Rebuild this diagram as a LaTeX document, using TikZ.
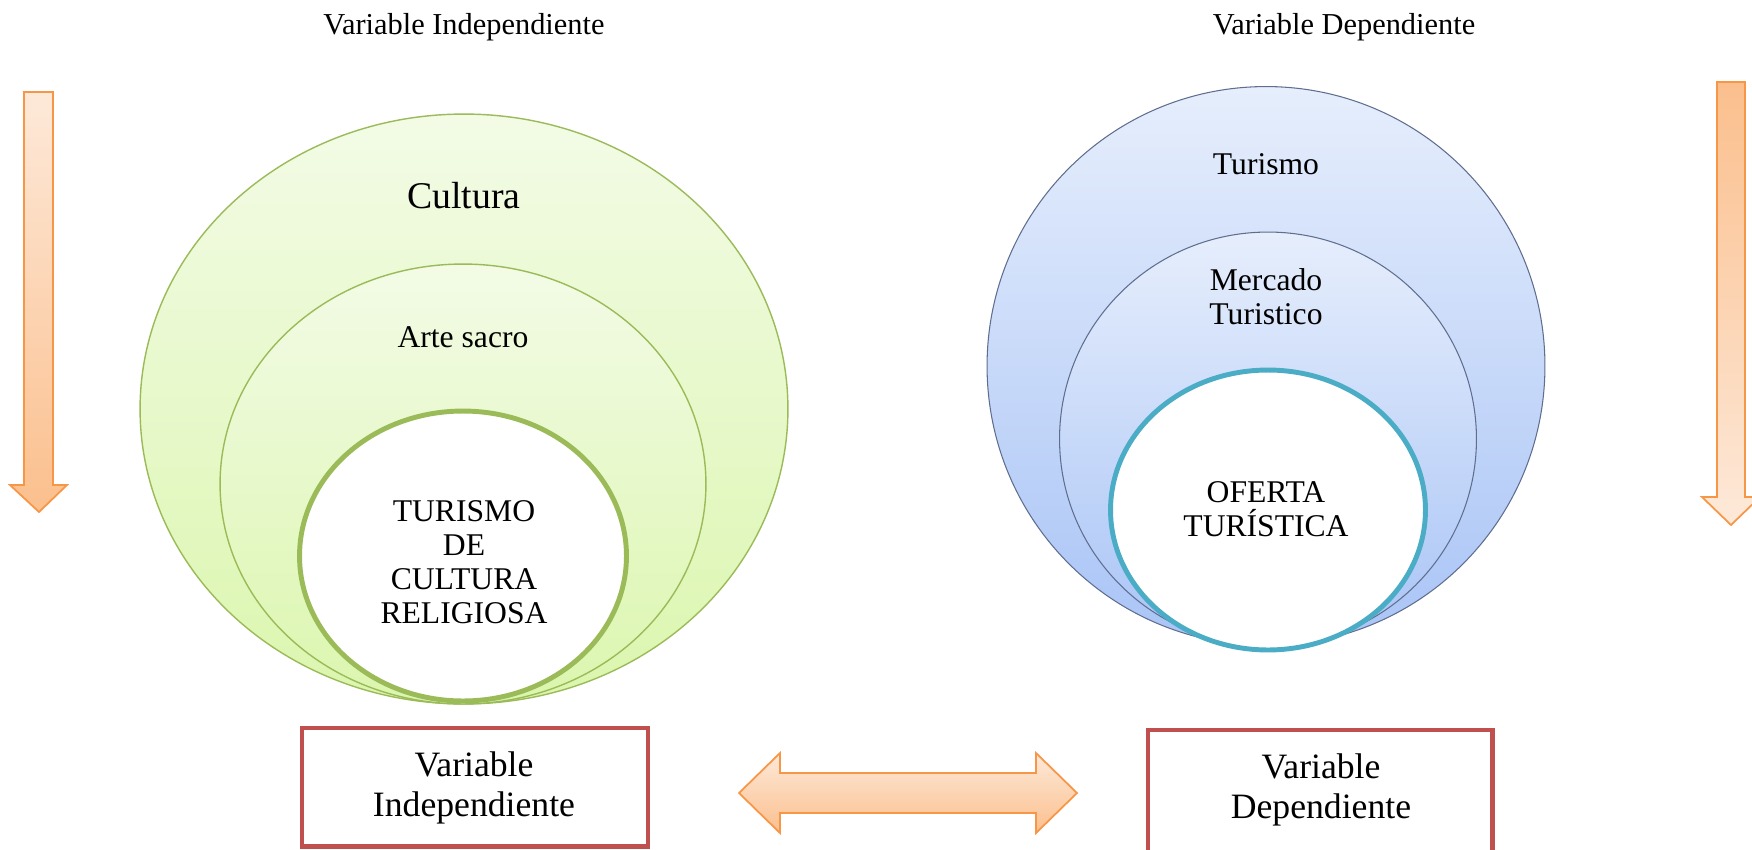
\documentclass[tikz,border=0pt]{standalone}
\usepackage{fontspec}
\setmainfont{Liberation Serif}
\usetikzlibrary{shapes.geometric}
\definecolor{verdeBorde}{HTML}{9BBB59}
\definecolor{verdeClaro}{HTML}{F3FBE6}
\definecolor{verdeFuerte}{HTML}{DBF6AE}
\definecolor{azulBorde}{HTML}{5F6E8E}
\definecolor{azulClaro}{HTML}{E6EEFC}
\definecolor{azulFuerte}{HTML}{A9C4F6}
\definecolor{turquesa}{HTML}{4BACC6}
\definecolor{naranjaBorde}{HTML}{F79646}
\definecolor{naranjaClaro}{HTML}{FDE9D9}
\definecolor{naranjaFuerte}{HTML}{FBBF8D}
\definecolor{rojoCaja}{HTML}{C0504D}
\newcommand{\letra}[1]{\fontsize{#1}{1.07\dimexpr#1pt\relax}\selectfont}

\begin{document}
\begin{tikzpicture}[x=0.02cm, y=-0.02cm]
  \tikzset{
    every node/.style={align=center, inner sep=0pt, font=\letra{18}},
    circVerde/.style={ellipse, draw=verdeBorde, line width=0.8pt, top color=verdeClaro, bottom color=verdeFuerte},
    circAzul/.style={ellipse, draw=azulBorde, line width=0.6pt, top color=azulClaro, bottom color=azulFuerte},
    centro/.style={ellipse, fill=white, line width=2.8pt},
    caja/.style={rectangle, draw=rojoCaja, line width=2.3pt, fill=white},
    textoCaja/.style={font=\fontsize{20.3}{23}\selectfont},
    flecha/.style={draw=naranjaBorde, line width=1pt, line join=miter}
  }
  \clip (0,0) rectangle (1752,849);

  \node[font=\letra{17.3}] (tituloInd) at (464,27) {Variable Independiente};
  \node[font=\letra{17.3}] (tituloDep) at (1344,27) {Variable Dependiente};

  \node[circVerde, minimum width=12.96cm, minimum height=11.8cm] (cultura) at (464,409) {};
  \node[circVerde, minimum width=9.72cm, minimum height=8.8cm] (arte) at (463,484) {};
  \node[centro, draw=verdeBorde, minimum width=6.54cm, minimum height=5.8cm] (turReligioso) at (463,556) {};
  \node[font=\letra{21.5}] (txtCultura) at (464,196) {Cultura};
  \node (txtArte) at (463,337) {Arte sacro};
  \node (txtReligioso) at (464,562) {TURISMO\\DE\\CULTURA\\RELIGIOSA};

  \node[circAzul, minimum width=11.16cm, minimum height=11.18cm] (turismo) at (1266,366) {};
  \node[circAzul, minimum width=8.34cm, minimum height=8.28cm] (mercado) at (1268,439) {};
  \node[centro, draw=turquesa, minimum width=6.3cm, minimum height=5.6cm] (oferta) at (1268,510) {};
  \node (txtTurismo) at (1266,164) {Turismo};
  \node (txtMercado) at (1266,297) {Mercado\\Turistico};
  \node (txtOferta) at (1266,509) {OFERTA\\TURÍSTICA};

  \node[caja, minimum width=6.92cm, minimum height=2.38cm] (cajaInd) at (475,787) {};
  \node[caja, minimum width=6.9cm, minimum height=2.9cm] (cajaDep) at (1320,802) {};
  \node[textoCaja] (txtInd) at (474,788) {Variable\\Independiente};
  \node[textoCaja] (txtDep) at (1321,790) {Variable\\Dependiente};

  \path[flecha, top color=naranjaClaro, bottom color=naranjaFuerte]
    (24,92) -- (53,92) -- (53,485) -- (67,485) -- (39,512) -- (10,485) -- (24,485) -- cycle;
  \path[flecha, top color=naranjaFuerte, bottom color=naranjaClaro]
    (1717,82) -- (1745,82) -- (1745,497) -- (1760,497) -- (1731,525) -- (1702,497) -- (1717,497) -- cycle;
  \path[flecha, top color=naranjaClaro, bottom color=naranjaFuerte]
    (739,793) -- (780,753) -- (780,773) -- (1036,773) -- (1036,753) -- (1077,793)
    -- (1036,833) -- (1036,813) -- (780,813) -- (780,833) -- cycle;
\end{tikzpicture}
\end{document}
